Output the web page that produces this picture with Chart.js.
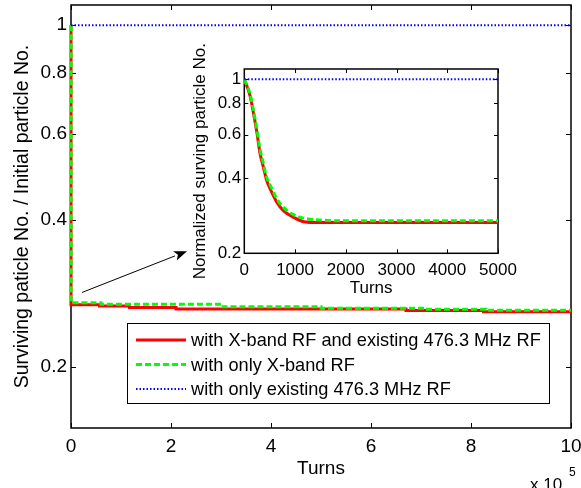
<!DOCTYPE html>
<html>
<head>
<meta charset="utf-8">
<script src="https://cdn.jsdelivr.net/npm/chart.js@4.4.0/dist/chart.umd.min.js"></script>
<style>
  html, body { margin: 0; padding: 0; background: #fff; }
  #wrap { position: relative; width: 581px; height: 488px; }
  #mainChart { position: absolute; left: 0; top: 0; }
  #insetChart { position: absolute; left: 170px; top: 40px; }
</style>
</head>
<body>
<div id="wrap">
  <canvas id="mainChart" width="581" height="488"></canvas>
  <canvas id="insetChart" width="360" height="260"></canvas>
</div>
<script>
// series names
const seriesNames = [
  'with X-band RF and existing 476.3 MHz RF',
  'with only X-band RF',
  'with only existing 476.3 MHz RF'
];

// main plot, turns in units of 10^5 (step changes)
const mainTurnsBoth = [0, 0, 0.57, 1.17, 2.1, 6.7, 8.25, 10];
const mainBoth      = [1, 0.268, 0.2665, 0.2645, 0.2627, 0.261, 0.2594, 0.2594];
const mainTurnsX    = [0, 0, 0.6, 3.0, 5.0, 7.1, 8.3, 10];
const mainX         = [1, 0.2705, 0.2686, 0.2655, 0.2637, 0.2625, 0.2613, 0.2613];
const mainTurnsOld  = [0, 10];
const mainOld       = [1, 1];
const mainXTicks = [0, 2, 4, 6, 8, 10];
const mainYTicks = [0.2, 0.4, 0.6, 0.8, 1];

// inset, first 5000 turns
const insetTurns = [0, 115, 180, 250, 310, 375, 440, 540, 640, 770, 970, 1170, 1430, 2000, 3000, 4000, 5000];
const insetBoth  = [1, 0.856, 0.732, 0.608, 0.504, 0.445, 0.393, 0.352, 0.321, 0.297, 0.279, 0.268, 0.266, 0.266, 0.266, 0.266, 0.266];
const insetX     = [1, 0.87, 0.75, 0.625, 0.523, 0.46, 0.405, 0.365, 0.331, 0.306, 0.286, 0.277, 0.2726, 0.270, 0.270, 0.270, 0.270];
const insetTurnsOld = [0, 5000];
const insetOld      = [1, 1];
const insetXTicks = [0, 1000, 2000, 3000, 4000, 5000];
const insetYTicks = [0.2, 0.4, 0.6, 0.8, 1];

const FONT = '"Liberation Sans", Arial, Helvetica, sans-serif';
Chart.defaults.font.family = FONT;
Chart.defaults.color = '#000';

function pts(xs, ys) { return xs.map((x, i) => ({ x: x, y: ys[i] })); }

const styles = [
  { borderColor: '#ff0000', borderWidth: 3, borderDash: [], order: 3 },
  { borderColor: '#00ff00', borderWidth: 3, borderDash: [6, 3], order: 2 },
  { borderColor: '#0000ff', borderWidth: 2, borderDash: [1.5, 2], order: 1 }
];

function makeSets(list, stepped) {
  return list.map((d, i) => Object.assign({
    label: seriesNames[i],
    data: d,
    pointRadius: 0,
    fill: false,
    clip: false,
    stepped: stepped,
    cubicInterpolationMode: 'monotone'
  }, styles[i]));
}

function noPad(s) {
  s.paddingLeft = 0; s.paddingRight = 0; s.paddingTop = 0; s.paddingBottom = 0;
}

// inward ticks + box, MATLAB style
const boxTicks = {
  id: 'boxTicks',
  beforeDatasetsDraw(chart, args, opts) {
    const { ctx, chartArea: a } = chart;
    const xs = chart.scales.x, ys = chart.scales.y;
    const len = opts.len;
    ctx.save();
    ctx.strokeStyle = '#000';
    ctx.lineWidth = 1;
    ctx.beginPath();
    xs.ticks.forEach(t => {
      const px = Math.round(xs.getPixelForValue(t.value)) + 0.5;
      ctx.moveTo(px, a.bottom); ctx.lineTo(px, a.bottom - len);
      ctx.moveTo(px, a.top); ctx.lineTo(px, a.top + len);
    });
    ys.ticks.forEach(t => {
      const py = Math.round(ys.getPixelForValue(t.value)) + 0.5;
      ctx.moveTo(a.left, py); ctx.lineTo(a.left + len, py);
      ctx.moveTo(a.right, py); ctx.lineTo(a.right - len, py);
    });
    ctx.stroke();
    ctx.lineWidth = opts.boxWidth;
    ctx.strokeRect(a.left, a.top, a.right - a.left, a.bottom - a.top);
    ctx.restore();
  }
};

// legend box, arrow and exponent label on the main plot
const arrowFrom = { x: 0.22, y: 0.284 };
const arrowTo = { x: 2.32, y: 0.345 };

const mainExtras = {
  id: 'mainExtras',
  afterDatasetsDraw(chart) {
    const { ctx } = chart;
    const xs = chart.scales.x, ys = chart.scales.y;
    ctx.save();
    // arrow
    const x0 = xs.getPixelForValue(arrowFrom.x), y0 = ys.getPixelForValue(arrowFrom.y);
    const x1 = xs.getPixelForValue(arrowTo.x), y1 = ys.getPixelForValue(arrowTo.y);
    const ang = Math.atan2(y1 - y0, x1 - x0);
    const hl = 13, hw = 5;
    ctx.strokeStyle = '#000';
    ctx.lineWidth = 1;
    ctx.beginPath();
    ctx.moveTo(x0, y0);
    ctx.lineTo(x1 - hl * Math.cos(ang), y1 - hl * Math.sin(ang));
    ctx.stroke();
    ctx.beginPath();
    ctx.moveTo(x1, y1);
    ctx.lineTo(x1 - hl * Math.cos(ang) + hw * Math.sin(ang), y1 - hl * Math.sin(ang) - hw * Math.cos(ang));
    ctx.lineTo(x1 - hl * 0.75 * Math.cos(ang), y1 - hl * 0.75 * Math.sin(ang));
    ctx.lineTo(x1 - hl * Math.cos(ang) - hw * Math.sin(ang), y1 - hl * Math.sin(ang) + hw * Math.cos(ang));
    ctx.closePath();
    ctx.fillStyle = '#000';
    ctx.fill();

    // legend
    const L = 127, T = 323, R = 549, B = 403;
    ctx.fillStyle = '#fff';
    ctx.fillRect(L, T, R - L, B - T);
    ctx.strokeStyle = '#000';
    ctx.lineWidth = 1;
    ctx.strokeRect(L + 0.5, T + 0.5, R - L, B - T);
    ctx.font = '18.2px ' + FONT;
    ctx.textBaseline = 'middle';
    ctx.textAlign = 'left';
    chart.data.datasets.forEach((ds, i) => {
      const yy = T + 17 + i * 24.5;
      ctx.strokeStyle = ds.borderColor;
      ctx.lineWidth = ds.borderWidth;
      ctx.setLineDash(ds.borderDash);
      ctx.beginPath();
      ctx.moveTo(L + 9, yy);
      ctx.lineTo(L + 59, yy);
      ctx.stroke();
      ctx.setLineDash([]);
      ctx.fillStyle = '#000';
      ctx.fillText(ds.label, L + 64, yy + 1);
    });

    // x 10^5
    ctx.fillStyle = '#000';
    ctx.textBaseline = 'alphabetic';
    ctx.font = '17px ' + FONT;
    ctx.fillText('x 10', 530, 490);
    ctx.font = '12px ' + FONT;
    ctx.fillText('5', 569, 476);
    ctx.restore();
  }
};

new Chart(document.getElementById('mainChart'), {
  type: 'line',
  data: {
    datasets: makeSets([pts(mainTurnsBoth, mainBoth), pts(mainTurnsX, mainX), pts(mainTurnsOld, mainOld)], true)
  },
  options: {
    responsive: false,
    animation: false,
    layout: { padding: { left: 0, top: 5, right: 10, bottom: 0 } },
    plugins: { legend: { display: false }, tooltip: { enabled: false }, boxTicks: { len: 5, boxWidth: 1.5 } },
    scales: {
      x: {
        type: 'linear', min: 0, max: 10,
        grid: { display: false, drawTicks: false }, border: { display: false },
        afterBuildTicks: s => { s.ticks = mainXTicks.map(v => ({ value: v })); },
        afterFit: s => { s.height = 60; noPad(s); },
        ticks: { font: { size: 19 }, padding: 7, maxRotation: 0, callback: v => String(v) },
        title: { display: true, text: 'Turns', font: { size: 19 }, padding: { top: 0, bottom: 8 } }
      },
      y: {
        type: 'logarithmic', min: 0.15, max: 1.1,
        grid: { display: false, drawTicks: false }, border: { display: false },
        afterBuildTicks: s => { s.ticks = mainYTicks.map(v => ({ value: v })); },
        afterFit: s => { s.width = 71; noPad(s); },
        ticks: { font: { size: 19 }, padding: 4, callback: v => String(v) },
        title: { display: true, text: 'Surviving paticle No. / Initial particle No.', font: { size: 19.5 }, padding: { top: 11, bottom: 0 } }
      }
    }
  },
  plugins: [boxTicks, mainExtras]
});

new Chart(document.getElementById('insetChart'), {
  type: 'line',
  data: {
    datasets: makeSets([pts(insetTurns, insetBoth), pts(insetTurns, insetX), pts(insetTurnsOld, insetOld)], false)
  },
  options: {
    responsive: false,
    animation: false,
    layout: { padding: { left: 0, top: 29, right: 32, bottom: 0 } },
    plugins: { legend: { display: false }, tooltip: { enabled: false }, boxTicks: { len: 4, boxWidth: 1.5 } },
    scales: {
      x: {
        type: 'linear', min: 0, max: 5000,
        grid: { display: false, drawTicks: false }, border: { display: false },
        afterBuildTicks: s => { s.ticks = insetXTicks.map(v => ({ value: v })); },
        afterFit: s => { s.height = 46.7; noPad(s); },
        ticks: { font: { size: 17 }, padding: 7, maxRotation: 0, callback: v => String(v) },
        title: { display: true, text: 'Turns', font: { size: 17 }, padding: { top: 0, bottom: 1 } }
      },
      y: {
        type: 'logarithmic', min: 0.2, max: 1.1,
        grid: { display: false, drawTicks: false }, border: { display: false },
        afterBuildTicks: s => { s.ticks = insetYTicks.map(v => ({ value: v })); },
        afterFit: s => { s.width = 74.3; noPad(s); },
        ticks: { font: { size: 17 }, padding: 3, callback: v => String(v) },
        title: { display: true, text: 'Normalized surving particle No.', font: { size: 17 }, padding: { top: 20, bottom: 0 } }
      }
    }
  },
  plugins: [boxTicks]
});
</script>
</body>
</html>
